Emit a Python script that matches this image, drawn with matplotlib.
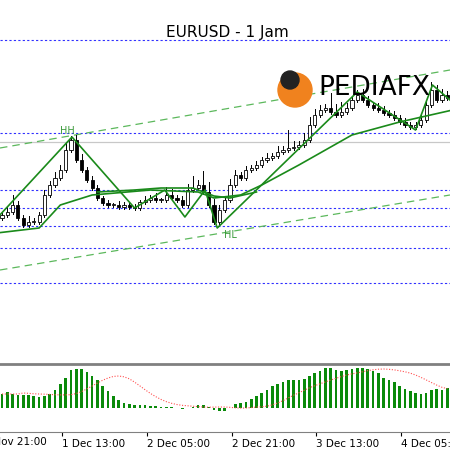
import matplotlib.pyplot as plt
from matplotlib.patches import Rectangle, Circle
import numpy as np
import pandas as pd

# hourly closes, pips above 1.2000
closes = [85, 88, 95, 82, 75, 78, 78, 85, 105, 115, 122, 130, 150, 160, 140, 130, 120, 112, 102, 97,
          95, 95, 93, 95, 93, 92, 98, 100, 102, 100, 100, 105, 102, 100, 95, 110, 112, 115, 108, 95,
          78, 90, 100, 115, 125, 122, 130, 132, 135, 140, 142, 144, 148, 150, 152, 153, 155, 160, 175, 185,
          190, 192, 188, 185, 188, 192, 200, 205, 200, 195, 192, 190, 187, 185, 182, 178, 175, 173, 175, 180,
          195, 210, 200, 205, 202]
wicks = [3, 5, 10, 4, 3, 6, 4, 3, 5, 4, 6, 5, 8, 4, 5, 6, 3, 4, 3, 2,
         3, 2, 4, 3, 2, 3, 2, 4, 3, 5, 2, 8, 6, 3, 4, 6, 12, 5, 14, 10,
         6, 5, 4, 6, 5, 3, 4, 3, 4, 3, 5, 3, 6, 4, 18, 6, 4, 7, 8, 6,
         5, 4, 15, 8, 10, 5, 4, 5, 6, 4, 3, 5, 4, 3, 4, 3, 4, 3, 3, 5,
         5, 8, 5, 6, 4]

ma_idx = [-1, 7, 11, 17, 28, 37, 40, 45, 49, 56, 66, 75, 85]
ma_val = [67, 72, 95, 105, 110, 108, 102, 105, 115, 135, 165, 178, 190]
ma2_idx = [18, 25, 30, 36, 40, 43, 48]
ma2_val = [108, 110, 112, 112, 104, 102, 108]

zz_idx = [-0.4, 13.2, 25, 30.7, 34.5, 38.3, 40.6, 67, 78, 81.2, 84.5]
zz_val = [85, 163, 92, 110, 83, 110, 72, 208, 170, 215, 200]

hist = [14, 16, 14, 13, 13, 13, 12, 11, 12, 14, 18, 24, 30, 38, 39, 39, 36, 32, 28, 22,
        17, 12, 8, 5, 4, 3, 3, 3, 2, 2, 1, 1, 1, 0, -1, 0, 1, 3, 3, 1,
        -2, -3, -3, 0, 4, 5, 6, 9, 12, 15, 18, 22, 24, 26, 28, 28, 28, 29, 32, 35,
        37, 40, 40, 38, 37, 38, 39, 40, 40, 39, 37, 35, 30, 28, 26, 22, 19, 17, 15, 14,
        15, 18, 19, 18, 20]

levels = [260, 167, 110, 92, 74, 52, 17]
tick_pos = [-4.7, 11.3, 27.3, 43.3, 59.3, 75.3]
tick_lab = ["30 Nov 21:00", "1 Dec 13:00", "2 Dec 05:00", "2 Dec 21:00", "3 Dec 13:00", "4 Dec 05:00"]

x0, x1 = -0.377, 84.5
fig = plt.figure(figsize=(4.5, 4.5), dpi=100)
ax = fig.add_axes([0, 88 / 450, 1, 362 / 450])
ax2 = fig.add_axes([0, 18 / 450, 1, 68 / 450])

for a in (ax, ax2):
    for s in a.spines.values():
        s.set_visible(False)
ax.set_ylim(-62, 300)
ax.set_xticks([])
ax.set_yticks([])

for lv in levels:
    ax.axhline(lv, color="#3030ff", lw=0.8, ls=(0, (2, 2)))
ax.axhline(158, color="#c8c8c8", lw=0.9)
ax.plot([x0, x1], [152, 230], color="#5cb85c", lw=0.9, ls=(0, (6, 4)))
ax.plot([x0, x1], [30, 105], color="#5cb85c", lw=0.9, ls=(0, (6, 4)))

prev = closes[0] - 3
for i, c in enumerate(closes):
    o = prev
    lo, hi = min(o, c), max(o, c)
    ax.plot([i, i], [lo - 2, hi + wicks[i]], color="black", lw=0.7, zorder=3)
    face = "white" if c >= o else "black"
    ax.add_patch(Rectangle((i - 0.3, lo), 0.6, max(hi - lo, 0.8), facecolor=face,
                           edgecolor="black", lw=0.6, zorder=4))
    prev = c

ax.plot(ma_idx, ma_val, color="#1a8a1a", lw=1.2, zorder=5)
ax.plot(ma2_idx, ma2_val, color="#1a8a1a", lw=1.2, zorder=5)
ax.plot(zz_idx, zz_val, color="#1a8a1a", lw=1.2, zorder=5)
ax.text(12.3, 166, "HH", color="#3a9a3a", fontsize=7, ha="center")
ax.text(43, 62, "HL", color="#3a9a3a", fontsize=7, ha="center")
ax.text(42.5, 268, "EURUSD - 1 Jam", fontsize=11, ha="center", va="center")

# logo
fig.patches.append(Circle((295 / 450, 1 - 90 / 450), 17 / 450, transform=fig.transFigure,
                          color="#f0821e", zorder=10))
fig.patches.append(Circle((290 / 450, 1 - 80 / 450), 9 / 450, transform=fig.transFigure,
                          color="#222222", zorder=10))
fig.text(318 / 450, 1 - 88 / 450, "PEDIAFX", fontsize=19, va="center", ha="left", zorder=11)

idx = np.arange(len(hist))
ax2.set_ylim(-24, 44)
ax2.bar(idx, hist, width=0.5, color="#0a8a0a")
signal = pd.Series(hist).rolling(9, min_periods=1).mean().shift(3).bfill()
ax2.plot(idx, signal, color="#ff5050", lw=0.8, ls=(0, (1, 1.5)))
ax2.set_yticks([])
ax2.spines["top"].set_visible(True)
ax2.spines["top"].set_color("#808080")
ax2.spines["top"].set_linewidth(2)
ax2.spines["bottom"].set_visible(True)
ax2.spines["bottom"].set_color("#808080")
ax2.set_xticks(tick_pos[1:])
ax2.set_xticklabels(tick_lab[1:], fontsize=7.5, ha="left")
ax2.tick_params(axis="x", length=3, pad=2)
# first label sits left of the visible range, only its tail shows
ax2.text(tick_pos[0], -0.074, tick_lab[0], fontsize=7.5, ha="left", va="top",
         transform=ax2.get_xaxis_transform(), clip_on=False)
for a in (ax, ax2):
    a.set_xlim(x0, x1)

fig.savefig("out.png", dpi=100)
